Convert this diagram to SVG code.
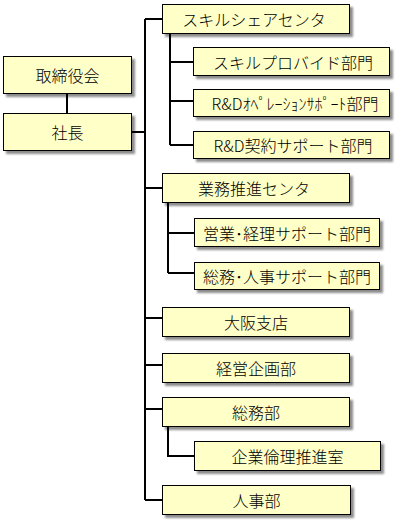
<svg xmlns="http://www.w3.org/2000/svg" width="400" height="521" viewBox="0 0 400 521">
<defs>
<filter id="sh" x="-10%" y="-20%" width="120%" height="150%">
<feDropShadow dx="3" dy="3" stdDeviation="1.2" flood-color="#000" flood-opacity="0.45"/>
</filter>
</defs>
<style>
.box rect{fill:#FFFFC8;stroke:#000;stroke-width:1;filter:url(#sh)}
.box text{font-family:"Noto Sans CJK JP","Noto Sans",sans-serif;font-size:16px;font-weight:300;fill:#000;text-anchor:middle;dominant-baseline:central}
.con path{fill:none;stroke:#000;stroke-width:2}
</style>
<rect width="400" height="521" fill="#fff"/>
<g class="con">
<path d="M67,94V113"/>
<path d="M132,132H145"/>
<path d="M145,19V500"/>
<path d="M145,19H162M145,188H162M145,318H162M145,365H162M145,409H162M145,500H162"/>
<path d="M170,34V145M170,62H193M170,101H193M170,145H193"/>
<path d="M168,203V273M168,233H194M168,273H194"/>
<path d="M168,427V456H194"/>
</g>
<g id="n1" class="box"><rect x="3.5" y="56.5" width="128" height="37"/><text x="67.5" y="75">取締役会</text></g>
<g id="n2" class="box"><rect x="3.5" y="113.5" width="128" height="37"/><text x="67.5" y="132">社長</text></g>
<g id="n3" class="box"><rect x="162.5" y="4.5" width="187" height="29"/><text x="254" y="19">スキルシェアセンタ</text></g>
<g id="n4" class="box"><rect x="193.5" y="47.5" width="196" height="28"/><text x="293" y="61.5">スキルプロバイド部門</text></g>
<g id="n5" class="box"><rect x="193.5" y="89.5" width="196" height="27"/><text x="295" y="103">R&amp;Dｵﾍﾟﾚｰｼｮﾝｻﾎﾟｰﾄ部門</text></g>
<g id="n6" class="box"><rect x="193.5" y="131.5" width="196" height="27"/><text x="293" y="145">R&amp;D契約サポート部門</text></g>
<g id="n7" class="box"><rect x="162.5" y="173.5" width="187" height="29"/><text x="254" y="188">業務推進センタ</text></g>
<g id="n8" class="box"><rect x="194.5" y="218.5" width="185" height="28"/><text x="287" y="232.5">営業･経理サポート部門</text></g>
<g id="n9" class="box"><rect x="194.5" y="262.5" width="185" height="27"/><text x="287" y="276">総務･人事サポート部門</text></g>
<g id="n10" class="box"><rect x="162.5" y="307.5" width="187" height="29"/><text x="256" y="322">大阪支店</text></g>
<g id="n11" class="box"><rect x="162.5" y="353.5" width="187" height="29"/><text x="256" y="368">経営企画部</text></g>
<g id="n12" class="box"><rect x="162.5" y="397.5" width="187" height="29"/><text x="256" y="412">総務部</text></g>
<g id="n13" class="box"><rect x="194.5" y="441.5" width="186" height="29"/><text x="287.5" y="456">企業倫理推進室</text></g>
<g id="n14" class="box"><rect x="162.5" y="485.5" width="188" height="29"/><text x="256.5" y="500">人事部</text></g>
</svg>
